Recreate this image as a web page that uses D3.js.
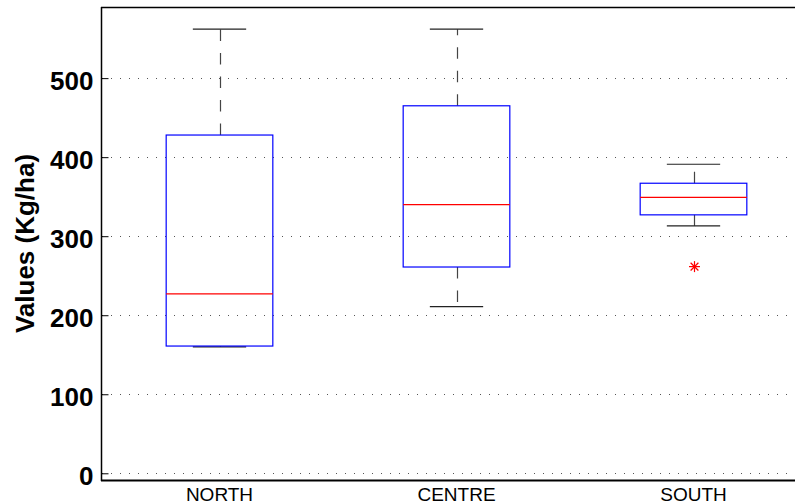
<!DOCTYPE html>
<html>
<head>
<meta charset="utf-8">
<script src="https://cdn.jsdelivr.net/npm/d3@7/dist/d3.min.js"></script>
<style>
  html, body { margin: 0; padding: 0; background: #fff; }
  svg { display: block; }
</style>
</head>
<body>
<svg id="chart" width="795" height="504"></svg>
<script>
// ---- data ----
const categories = ["NORTH", "CENTRE", "SOUTH"];
const lowerWhisker = [160, 211, 313];
const q1Values     = [161, 261, 327];
const medians      = [227, 340, 349];
const q3Values     = [428, 465, 367];
const upperWhisker = [562, 562, 391];
const outliers     = [[], [], [261.5]];
const yTicks = [0, 100, 200, 300, 400, 500];
const yLabel = "Values (Kg/ha)";

// ---- layout ----
const W = 795, H = 504;
const plotLeft = 101, plotTop = 7, plotBottom = 480, plotRight = 812;
const font = "'Liberation Sans', Arial, Helvetica, sans-serif";

const svg = d3.select("#chart");

const x = d3.scaleLinear().domain([0.5, 3.5]).range([plotLeft, plotRight]);
const y = d3.scaleLinear().domain([-8.5, 590]).range([plotBottom, plotTop]);

const boxW = 0.45, capW = 0.225;

// grid
svg.append("g").selectAll("line").data(yTicks).join("line")
  .attr("x1", plotLeft + 1).attr("x2", W)
  .attr("y1", d => Math.round(y(d)) + 0.5).attr("y2", d => Math.round(y(d)) + 0.5)
  .attr("stroke", "#555").attr("stroke-width", 1)
  .attr("stroke-dasharray", "1,8");

// y axis
const yAxis = d3.axisLeft(y).tickValues(yTicks).tickSizeInner(-7).tickSizeOuter(0).tickPadding(8);
const gy = svg.append("g").attr("transform", `translate(${plotLeft + 0.5},0)`).call(yAxis);
gy.select(".domain").remove();
gy.selectAll(".tick line").attr("stroke", "#000").attr("stroke-width", 1);
gy.selectAll(".tick text")
  .attr("font-family", font).attr("font-size", 26).attr("font-weight", "bold")
  .attr("fill", "#000").attr("dy", "0.45em");

// x category labels
svg.append("g").selectAll("text").data(categories).join("text")
  .attr("x", (d, i) => x(i + 1)).attr("y", 501)
  .attr("text-anchor", "middle")
  .attr("font-family", font).attr("font-size", 19)
  .attr("fill", "#000").text(d => d);

// frame
svg.append("line").attr("x1", plotLeft + 0.5).attr("x2", plotLeft + 0.5)
  .attr("y1", plotTop).attr("y2", plotBottom + 1)
  .attr("stroke", "#000").attr("stroke-width", 1.5);
svg.append("line").attr("x1", plotLeft).attr("x2", W)
  .attr("y1", plotBottom + 0.5).attr("y2", plotBottom + 0.5)
  .attr("stroke", "#000").attr("stroke-width", 1.8);
svg.append("line").attr("x1", plotLeft).attr("x2", W)
  .attr("y1", plotTop + 0.5).attr("y2", plotTop + 0.5)
  .attr("stroke", "#000").attr("stroke-width", 1.5);

// y label
svg.append("text")
  .attr("transform", `translate(34, ${(plotTop + plotBottom) / 2}) rotate(-90)`)
  .attr("text-anchor", "middle")
  .attr("font-family", font).attr("font-size", 26).attr("font-weight", "bold")
  .attr("fill", "#000").text(yLabel);

// boxes
const g = svg.append("g");
categories.forEach((c, i) => {
  const cx = Math.round(x(i + 1)) + 0.5;
  const bl = x(i + 1 - boxW / 2), br = x(i + 1 + boxW / 2);
  const cl = x(i + 1 - capW / 2), cr = x(i + 1 + capW / 2);
  const yq1 = y(q1Values[i]), yq3 = y(q3Values[i]);
  const ylw = y(lowerWhisker[i]), yuw = y(upperWhisker[i]);

  // whiskers (dashed, drawn from box outward)
  g.append("line").attr("x1", cx).attr("x2", cx).attr("y1", yq3).attr("y2", yuw)
    .attr("stroke", "#444").attr("stroke-width", 1.2).attr("stroke-dasharray", "11.5,12");
  g.append("line").attr("x1", cx).attr("x2", cx).attr("y1", yq1).attr("y2", ylw)
    .attr("stroke", "#444").attr("stroke-width", 1.2).attr("stroke-dasharray", "11.5,12");
  // caps
  g.append("line").attr("x1", cl).attr("x2", cr).attr("y1", yuw).attr("y2", yuw)
    .attr("stroke", "#222").attr("stroke-width", 1.2);
  g.append("line").attr("x1", cl).attr("x2", cr).attr("y1", ylw).attr("y2", ylw)
    .attr("stroke", "#222").attr("stroke-width", 1.2);
  // box
  g.append("rect").attr("x", bl).attr("y", yq3).attr("width", br - bl).attr("height", yq1 - yq3)
    .attr("fill", "none").attr("stroke", "#0000ff").attr("stroke-width", 1.2);
  // median
  g.append("line").attr("x1", bl).attr("x2", br).attr("y1", y(medians[i])).attr("y2", y(medians[i]))
    .attr("stroke", "#ff0000").attr("stroke-width", 1.2);
  // outliers as asterisks
  outliers[i].forEach(v => {
    const oy = y(v), r = 5.5;
    const star = g.append("g").attr("transform", `translate(${cx},${oy})`);
    [0, 45, 90, 135].forEach(a => {
      const rad = a * Math.PI / 180;
      star.append("line")
        .attr("x1", -r * Math.cos(rad)).attr("y1", -r * Math.sin(rad))
        .attr("x2", r * Math.cos(rad)).attr("y2", r * Math.sin(rad))
        .attr("stroke", "#ff0000").attr("stroke-width", 1.2);
    });
  });
});
</script>
</body>
</html>
